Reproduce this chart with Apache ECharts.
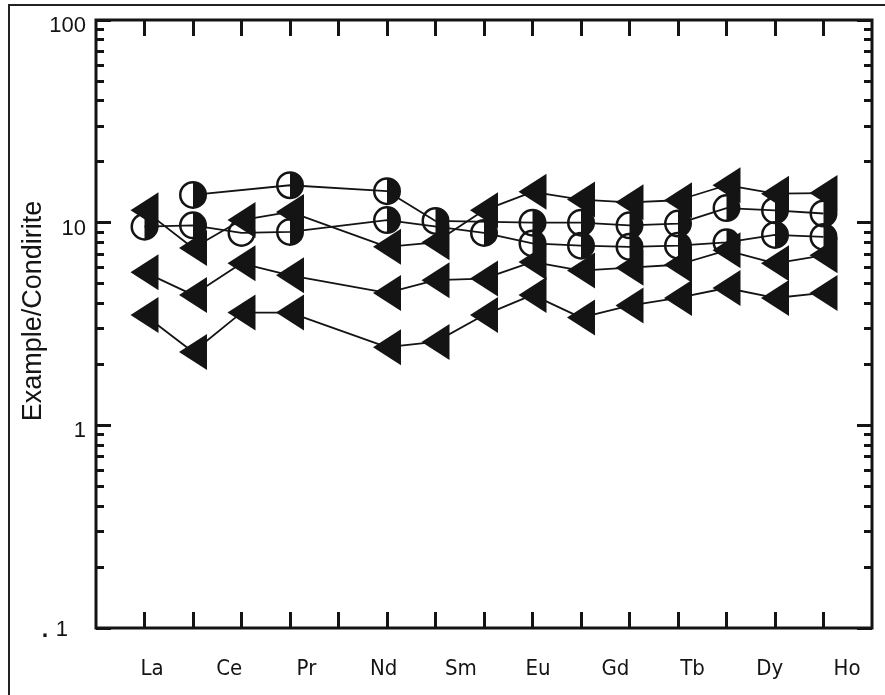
<!DOCTYPE html>
<html>
<head>
<meta charset="utf-8">
<script src="https://cdn.jsdelivr.net/npm/echarts@6/dist/echarts.min.js"></script>
<style>
  html, body { margin: 0; padding: 0; background: #fff; }
  #main { width: 885px; height: 695px; }
</style>
</head>
<body>
<div id="main"></div>
<script>
// tick positions along the bottom/top (Pm has no data)
var tickElements = ["La", "Ce", "Pr", "Nd", "Pm", "Sm", "Eu", "Gd", "Tb", "Dy", "Ho", "Er", "Tm", "Yb", "Lu"];
var elements = ["La", "Ce", "Pr", "Nd", "Sm", "Eu", "Gd", "Tb", "Dy", "Ho", "Er", "Tm", "Yb", "Lu"];
// labels printed under the axis
var bottomLabels = ["La", "Ce", "Pr", "Nd", "Sm", "Eu", "Gd", "Tb", "Dy", "Ho"];
var yTickLabels = { 0.1: "{d|.}{m| 1}", 1: "{n|1}", 10: "{n|10}", 100: "{n|100}" };

// triangles
var triHigh = [11.5, 7.5, 10.3, 11.3, 7.6, 8.0, 11.5, 14.2, 13.0, 12.6, 12.9, 15.3, 13.9, 14.0];
var triMid = [5.7, 4.4, 6.3, 5.5, 4.5, 5.2, 5.3, 6.4, 5.8, 6.0, 6.2, 7.3, 6.3, 6.9];
var triLow = [3.5, 2.3, 3.6, 3.6, 2.43, 2.58, 3.5, 4.4, 3.4, 3.9, 4.25, 4.76, 4.25, 4.5];
// half filled circles
var circTop = [null, 13.7, null, 15.3, 14.3, 10.2, null, 10.0, 10.0, 9.7, 9.9, 11.8, 11.5, 11.1];
var circLow = [9.55, 9.7, 8.9, 9.0, 10.3, null, 8.9, 7.9, 7.7, 7.6, 7.7, 8.0, 8.7, 8.5];
var openPoints = ["Pr"]; // circLow point drawn as an open ring

// category axis padded by one empty slot each side
var cats = ["-"].concat(tickElements).concat(["+"]);

var triPath = "path://M0,18L28,0L28,36Z";
var ringPath = "path://M10,0A10,10 0 1,1 10,20A10,10 0 1,1 10,0Z M10,1.8A8.2,8.2 0 1,0 10,18.2A8.2,8.2 0 1,0 10,1.8Z";
var halfPath = ringPath + " M10,1.8A8.2,8.2 0 0,1 10,18.2Z";

var FONT = "'Liberation Sans', Arial, Helvetica, sans-serif";
var INK = "#141414";

// minor ticks of the log axis, on a log10 value axis
var minorTicks = [];
[0.1, 1, 10].forEach(function (d) {
  for (var k = 2; k <= 9; k++) minorTicks.push(Math.log10(d * k));
});

function lineData(arr) {
  var out = cats.map(function () { return null; });
  elements.forEach(function (el, i) { out[cats.indexOf(el)] = arr[i]; });
  return out;
}
function pointData(arr, open) {
  var out = [];
  elements.forEach(function (el, i) {
    if (arr[i] == null) return;
    var item = { value: [cats.indexOf(el), arr[i]] };
    if (open && open.indexOf(el) >= 0) item.symbol = ringPath;
    out.push(item);
  });
  return out;
}

var groups = [
  { name: "triHigh", data: triHigh, symbol: triPath, size: [28, 36] },
  { name: "triMid", data: triMid, symbol: triPath, size: [28, 36] },
  { name: "triLow", data: triLow, symbol: triPath, size: [28, 36] },
  { name: "circTop", data: circTop, symbol: halfPath, size: 28 },
  { name: "circLow", data: circLow, symbol: halfPath, size: 28, open: openPoints }
];

var series = [];
groups.forEach(function (g) {
  series.push({
    name: g.name + "-line",
    type: "line",
    data: lineData(g.data),
    connectNulls: true,
    showSymbol: false,
    silent: true,
    z: 2,
    lineStyle: { color: INK, width: 1.8 }
  });
});
groups.forEach(function (g) {
  series.push({
    name: g.name,
    type: "scatter",
    data: pointData(g.data, g.open),
    symbol: g.symbol,
    symbolSize: g.size,
    silent: true,
    z: 3,
    itemStyle: { color: INK, opacity: 1 }
  });
});

var tickStyle = { color: INK, width: 3 };
var noLine = { show: false, onZero: false };
var tickInterval = function (i) { return i > 0 && i < cats.length - 1; };

var option = {
  backgroundColor: "#fff",
  animation: false,
  graphic: [{
    type: "rect",
    shape: { x: 9, y: 5, width: 900, height: 720 },
    style: { fill: null, stroke: "#222", lineWidth: 2 },
    z: 0, silent: true
  }],
  grid: [
    { left: 96, right: 13, top: 20, bottom: 67, show: true, borderColor: INK, borderWidth: 3 },
    { left: 152, right: 38, top: 20, bottom: 67, show: false }
  ],
  xAxis: [
    {
      type: "category", gridIndex: 0, position: "bottom", data: cats, boundaryGap: false,
      axisLine: noLine, axisLabel: { show: false }, splitLine: { show: false },
      axisTick: { show: true, inside: true, length: 16, lineStyle: tickStyle, interval: tickInterval }
    },
    {
      type: "category", gridIndex: 0, position: "top", data: cats, boundaryGap: false,
      axisLine: noLine, axisLabel: { show: false }, splitLine: { show: false },
      axisTick: { show: true, inside: true, length: 16, lineStyle: tickStyle, interval: tickInterval }
    },
    {
      type: "category", gridIndex: 1, position: "bottom", data: bottomLabels, boundaryGap: false,
      axisLine: noLine, axisTick: { show: false }, splitLine: { show: false },
      axisLabel: { margin: 30, fontSize: 22, color: INK, interval: 0,
        fontFamily: "'Liberation Sans Narrow', 'DejaVu Sans Condensed', Arial, sans-serif" }
    }
  ],
  yAxis: [
    {
      type: "log", gridIndex: 0, position: "left", min: 0.1, max: 100, logBase: 10,
      axisLine: noLine, splitLine: { show: false },
      axisTick: { show: true, inside: true, length: 15, lineStyle: tickStyle },
      axisLabel: {
        margin: 8, color: INK, fontFamily: FONT,
        rich: {
          n: { fontSize: 22, fontFamily: FONT, color: INK, padding: [12, 2, 0, 0] },
          m: { fontSize: 22, fontFamily: FONT, color: INK, padding: [4, 20, 0, 0] },
          d: { fontSize: 34, fontFamily: FONT, color: INK, padding: [0, 0, 0, 0] }
        },
        formatter: function (v) {
          var key = v < 0.5 ? 0.1 : Math.round(v);
          return yTickLabels[key];
        }
      },
      name: "Example/Condirite", nameLocation: "middle", nameGap: 49, nameMoveOverlap: false,
      nameTextStyle: { fontSize: 27, color: INK, fontFamily: FONT, padding: [0, 0, 0, 26] }
    },
    {
      type: "value", gridIndex: 0, position: "left", min: -1, max: 2,
      axisLine: noLine, splitLine: { show: false }, axisLabel: { show: false },
      axisTick: { show: true, inside: true, length: 8, customValues: minorTicks, lineStyle: tickStyle }
    },
    {
      type: "value", gridIndex: 0, position: "right", min: -1, max: 2, interval: 1,
      axisLine: noLine, splitLine: { show: false }, axisLabel: { show: false },
      axisTick: { show: true, inside: true, length: 15, lineStyle: tickStyle }
    },
    {
      type: "value", gridIndex: 0, position: "right", min: -1, max: 2,
      axisLine: noLine, splitLine: { show: false }, axisLabel: { show: false },
      axisTick: { show: true, inside: true, length: 8, customValues: minorTicks, lineStyle: tickStyle }
    },
    { type: "value", gridIndex: 1, show: false }
  ],
  series: series
};

var chart = echarts.init(document.getElementById("main"));
chart.setOption(option);
</script>
</body>
</html>
